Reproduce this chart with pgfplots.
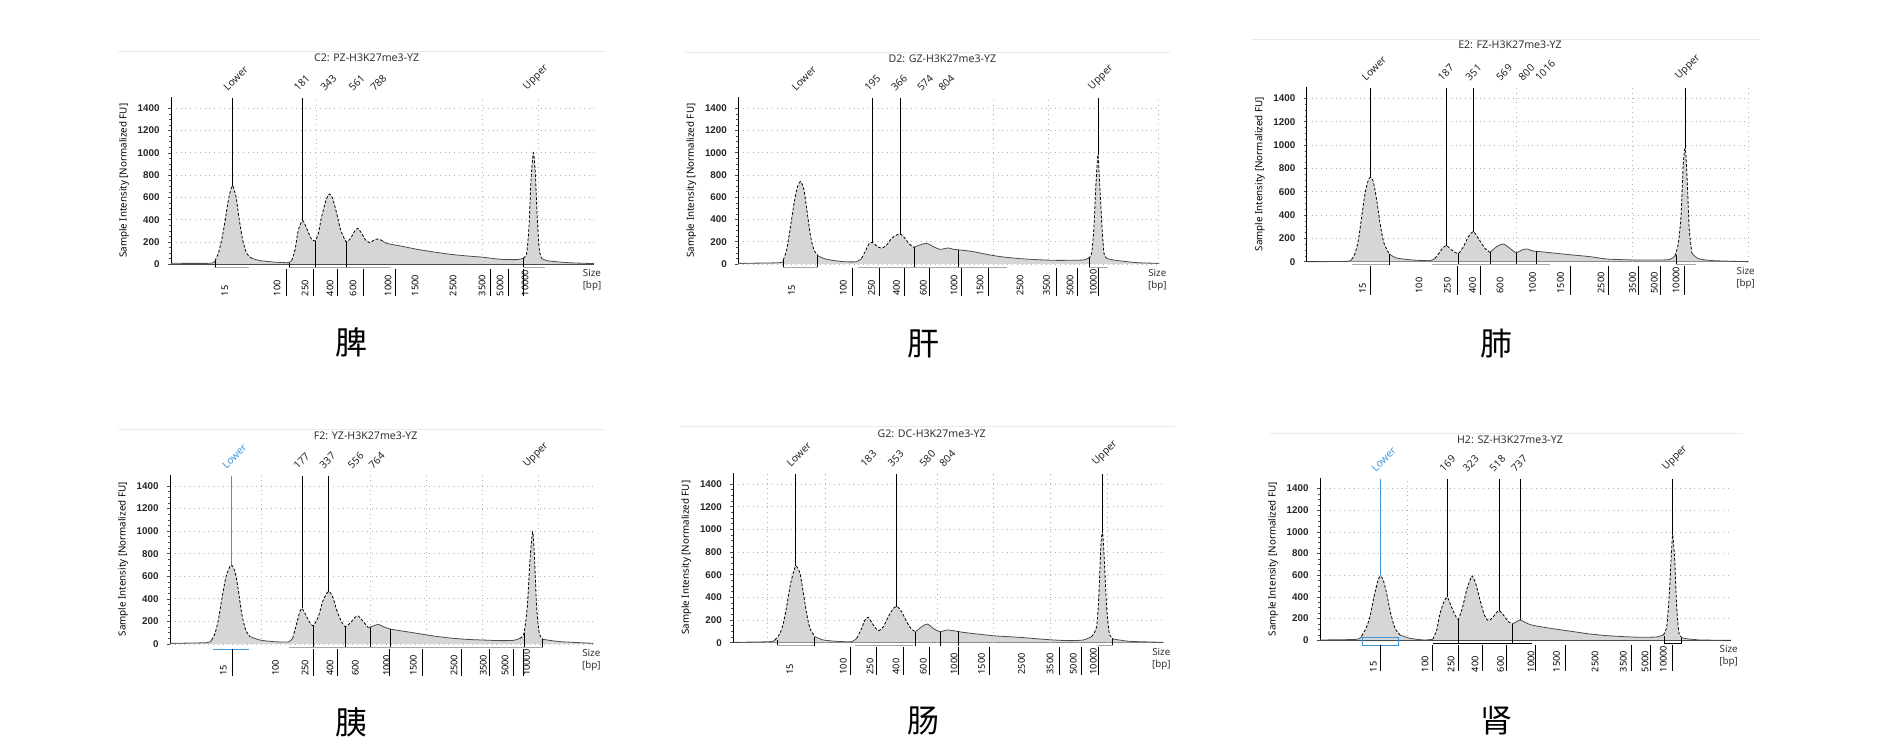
\documentclass[border=0pt]{standalone}
\usepackage{fontspec}
\setmainfont{Noto Sans}
\newfontfamily\cjk{Noto Sans CJK SC}
\newfontfamily\arialf{Liberation Sans}
\usepackage{pgfplots}
\usepackage{pgfplotstable}
\pgfplotsset{compat=1.18}
\definecolor{fillg}{RGB}{214,214,214}
\definecolor{lowblue}{RGB}{60,150,220}
\newcommand{\sm}{\fontsize{4.6pt}{5pt}\selectfont}
\newcommand{\smy}{\arialf\bfseries\fontsize{4.9pt}{5pt}\selectfont}
\newcommand{\sml}{\fontsize{4.9pt}{6pt}\selectfont}
\newcommand{\lbl}{\fontsize{5.1pt}{6pt}\selectfont}
\newcommand{\tit}{\fontsize{5.3pt}{6.4pt}\selectfont}
\newcommand{\organ}{\cjk\fontsize{16pt}{18pt}\selectfont}

\pgfplotsset{
 ep/.style={
  scale only axis, clip=false, anchor=south west,
  ymin=0, ymax=1500,
  axis x line=bottom, axis y line=left,
  axis line style={-, black, line width=0.5pt},
  ytick={0,200,...,1400},
  minor y tick num=3,
  ymajorgrids, grid style={gray!60, dotted, line width=0.4pt},
  tick align=outside, ytick pos=left,
  major tick length=1.6pt, minor tick length=1pt,
  every tick/.style={black!70, line width=0.3pt},
  xtick style={draw=none},
  xticklabels={15,100,250,400,600,1000,1500,2500,3500,5000,10000},
  x tick label style={rotate=90, anchor=west, font=\sm, inner sep=0.5pt},
  xticklabel shift=15pt,
  y tick label style={font=\smy, xshift=-0.6pt, text=black!85},
  /pgf/number format/assume math mode=true,
  /pgf/number format/1000 sep={},
  ylabel={Sample Intensity [Normalized FU]},
  ylabel style={font=\sml},
  ylabel shift=-2.5pt,
 },
 ln/.style={black!70, line width=0.4pt, smooth, tension=0.4, mark=none},
 dl/.style={black, line width=0.4pt, dash pattern=on 1.4pt off 0.9pt, smooth, tension=0.4, mark=none},
}

\newcommand{\trace}[7]{%
 \addplot[fill=fillg, draw=none, smooth, tension=0.4, mark=none] table {#1} \closedcycle;
 \addplot[ln, restrict x to domain=0:#2] table {#1};
 \addplot[dl, restrict x to domain=#2:#3] table {#1};
 \addplot[ln, restrict x to domain=#3:#4] table {#1};
 \addplot[dl, restrict x to domain=#4:#5] table {#1};
 \addplot[ln, restrict x to domain=#5:#6] table {#1};
 \addplot[dl, restrict x to domain=#6:#7] table {#1};
 \addplot[ln, restrict x to domain=#7:3000] table {#1};
}
\newcommand{\pkline}[3][black]{\draw[#1, line width=0.45pt] (axis cs:#2,#3) -- (axis cs:#2,1490);}
\newcommand{\pklab}[3][black!85]{\node[xshift=-2.2pt, yshift=3pt, rotate=45, anchor=south west, inner sep=0pt, font=\lbl, text=#1] at (axis cs:#2,1490) {#3};}
\newcommand{\tl}[1]{\draw[black, line width=0.5pt] (axis cs:#1,-40) -- (axis cs:#1,-285);}
\newcommand{\gv}[1]{\draw[gray!60, dotted, line width=0.4pt] (axis cs:#1,0) -- (axis cs:#1,1490);}
\newcommand{\sg}[2]{\draw[black, line width=0.45pt] (axis cs:#1,#2) -- (axis cs:#1,-28);}
\newcommand{\rg}[3][gray!70]{\draw[#1, line width=0.5pt] (axis cs:#2,-28) -- (axis cs:#3,-28);}
\newcommand{\sz}[1]{\node[anchor=north, align=center, font=\sml, inner sep=0pt, text=black!80] at (axis cs:#1,-45) {Size\\{[bp]}};}

% ---------- data: x = position along the size axis, y = intensity [FU]
\pgfplotstableread{
x y
213 9
330 9
345 30
355 99
365 218
375 383
385 577
397 706
408 607
418 398
428 218
440 99
455 54
480 33
530 18
565 15
575 33
585 129
595 308
608 392
620 323
633 233
645 209
655 278
665 428
678 577
688 631
698 592
710 458
722 308
735 218
740 200
752 233
763 293
773 323
785 278
797 218
810 194
822 218
835 227
848 209
860 188
900 165
950 135
1000 111
1050 90
1100 75
1150 63
1200 45
1250 42
1270 54
1280 99
1287 338
1293 757
1300 1002
1306 817
1312 398
1318 129
1325 54
1340 33
1400 15
1482 6
}\tA

\pgfplotstableread{
x y
205 6
330 12
340 36
350 126
360 306
372 540
382 690
392 741
402 666
412 456
422 246
432 126
445 72
470 42
520 21
560 21
575 51
588 126
598 186
608 192
620 162
635 141
650 171
665 231
680 261
692 270
705 231
718 180
732 150
750 171
770 186
790 156
810 132
835 144
850 132
870 126
910 111
960 81
1000 63
1050 48
1100 39
1150 33
1200 33
1240 36
1255 51
1265 96
1272 336
1278 726
1284 981
1290 666
1296 336
1302 96
1310 51
1330 36
1400 12
1468 6
}\tB

\pgfplotstableread{
x y
200 0
320 3
335 20
345 71
355 186
365 386
375 586
385 700
392 723
400 686
410 529
420 329
432 157
448 66
470 31
520 14
570 9
585 29
598 77
610 123
620 137
635 100
655 71
670 129
685 214
700 257
715 200
735 114
750 80
770 129
790 151
810 114
828 77
845 100
860 109
880 91
900 86
950 71
1000 57
1050 43
1100 23
1150 17
1200 14
1260 14
1290 20
1305 49
1315 157
1323 386
1330 843
1336 971
1342 671
1348 271
1356 71
1375 26
1420 9
1525 0
}\tC

\pgfplotstableread{
x y
210 6
320 12
335 35
345 94
355 213
365 390
378 596
393 700
405 641
415 479
425 272
437 124
450 65
480 35
520 21
565 18
578 50
590 183
598 272
605 316
615 272
628 197
640 162
655 242
668 375
680 449
688 464
698 419
710 301
722 213
735 154
750 183
765 236
775 248
790 198
805 145
820 160
835 174
850 153
870 133
900 118
950 95
1000 71
1050 53
1100 41
1150 35
1200 30
1240 32
1260 50
1272 94
1282 331
1290 744
1298 993
1303 802
1310 331
1318 94
1330 41
1380 21
1480 6
}\tD

\pgfplotstableread{
x y
190 3
300 9
315 24
330 82
340 171
350 318
362 524
377 676
390 612
400 441
410 259
420 126
435 53
460 24
500 12
545 9
560 38
575 126
585 200
595 224
610 156
625 106
640 141
655 229
670 303
682 318
695 274
710 185
725 118
737 97
755 141
772 165
790 126
810 97
830 112
850 106
880 91
930 74
980 59
1050 47
1100 35
1150 24
1200 18
1240 24
1265 53
1280 141
1287 435
1293 876
1298 965
1303 729
1310 318
1318 82
1330 32
1380 12
1480 3
}\tE

\pgfplotstableread{
x y
240 3
350 9
365 40
378 111
390 218
402 403
414 554
421 594
430 554
440 431
452 249
465 111
480 49
510 18
550 3
578 9
590 95
600 249
612 357
622 397
632 326
645 234
655 194
668 311
680 465
692 572
697 594
707 526
720 372
733 234
745 181
760 218
772 265
778 274
790 234
805 172
818 151
830 172
840 188
855 166
870 145
900 126
950 102
1000 80
1050 58
1100 43
1150 34
1200 28
1250 31
1270 49
1280 126
1288 434
1294 803
1298 972
1304 741
1310 311
1317 65
1330 18
1380 3
1472 0
}\tF

\begin{document}
\begin{tikzpicture}
\useasboundingbox (0,0) rectangle (940pt,374pt);

% ---------------- Panel 1: C2 PZ
\begin{axis}[ep, at={(85.5pt,241.85pt)}, width=211.5pt, height=83.55pt,
  xmin=213, xmax=1482, xtick={375,531,615,690,759,864,945,1059,1146,1200,1275}]
 \gv{650}\gv{1148}\gv{1315}
 \trace{\tA}{345}{455}{575}{848}{1270}{1325}
 \pkline{397}{706}\pkline{608}{392}
 \pklab{397}{Lower}\pklab{608}{181}\pklab{688}{343}\pklab{773}{561}\pklab{838}{788}\pklab{1300}{Upper}
 \sg{345}{30}\sg{568}{15}\sg{645}{209}\sg{740}{200}\sg{1270}{54}
 \rg{343}{447}\rg{568}{870}\rg{1270}{1335}
 \tl{558}\tl{640}\tl{711}\tl{789}\tl{885}\tl{1170}\tl{1224}\tl{1270}
 \sz{1476}
\end{axis}

% ---------------- Panel 2: D2 GZ
\begin{axis}[ep, at={(369.15pt,242pt)}, width=210.5pt, height=83.4pt,
  xmin=205, xmax=1468, xtick={365,520,605,680,760,852,930,1050,1130,1200,1270}]
 \gv{970}\gv{1135}\gv{1465}
 \trace{\tB}{340}{445}{575}{732}{1255}{1310}
 \pkline{608}{192}\pkline{690}{265}\pkline{1284}{981}
 \pklab{392}{Lower}\pklab{610}{195}\pklab{690}{366}\pklab{768}{574}\pklab{832}{804}\pklab{1285}{Upper}
 \sg{340}{36}\sg{443}{72}\sg{732}{150}\sg{865}{126}\sg{1257}{51}
 \rg{338}{443}\rg{565}{1010}\rg{1257}{1315}
 \tl{548}\tl{628}\tl{705}\tl{778}\tl{875}\tl{955}\tl{1160}\tl{1222}\tl{1285}
 \sz{1462}
\end{axis}

% ---------------- Panel 3: E2 FZ
\begin{axis}[ep, at={(653.35pt,243.15pt)}, width=220.8pt, height=87.5pt,
  xmin=200, xmax=1525, xtick={368,537,622,698,780,878,962,1083,1178,1243,1308}]
 \gv{828}\gv{1178}\gv{1525}
 \trace{\tC}{335}{448}{585}{750}{1305}{1356}
 \pkline{392}{723}\pkline{620}{137}\pkline{700}{257}\pkline{1336}{971}
 \pklab{392}{Lower}\pklab{620}{187}\pklab{703}{351}\pklab{795}{569}\pklab{862}{800}\pklab{912}{1016}\pklab{1336}{Upper}
 \sg{448}{66}\sg{655}{71}\sg{752}{80}\sg{830}{77}\sg{890}{88}\sg{1308}{60}
 \rg{337}{448}\rg{575}{930}\rg{1308}{1367}
 \tl{390}\tl{652}\tl{720}\tl{990}\tl{1105}\tl{1195}\tl{1263}\tl{1335}
 \sz{1517}
\end{axis}

% ---------------- Panel 4: F2 YZ
\begin{axis}[ep, at={(85pt,52pt)}, width=211.65pt, height=84.65pt,
  xmin=210, xmax=1480, xtick={370,527,615,690,766,860,940,1062,1150,1215,1280}]
 \gv{483}\gv{812}\gv{978}\gv{1148}\gv{1315}
 \trace{\tD}{335}{450}{578}{805}{1260}{1330}
 \pkline[lowblue]{393}{700}\pkline{607}{316}\pkline{685}{460}
 \pklab[lowblue]{393}{Lower}\pklab{607}{177}\pklab{685}{337}\pklab{770}{556}\pklab{833}{764}\pklab{1300}{Upper}
 \sg{640}{162}\sg{737}{154}\sg{812}{150}\sg{870}{133}\sg{1272}{94}\sg{1328}{41}
 \draw[lowblue, line width=0.5pt] (axis cs:340,-45) -- (axis cs:447,-45);
 \rg{568}{1330}
 \tl{397}\tl{640}\tl{712}\tl{870}\tl{968}\tl{1085}\tl{1170}\tl{1240}\tl{1270}
 \sz{1474}
\end{axis}

% ---------------- Panel 5: G2 DC
\begin{axis}[ep, at={(366.65pt,52.65pt)}, width=215pt, height=85pt,
  xmin=190, xmax=1480, xtick={360,520,600,678,760,852,935,1055,1140,1210,1270}]
 \gv{293}\gv{465}\gv{803}\gv{970}\gv{1140}\gv{1312}
 \trace{\tE}{315}{435}{560}{737}{1265}{1330}
 \pkline{377}{676}\pkline{680}{318}\pkline{1297}{965}
 \pklab{377}{Lower}\pklab{598}{183}\pklab{680}{353}\pklab{775}{580}\pklab{835}{804}\pklab{1297}{Upper}
 \sg{322}{24}\sg{432}{53}\sg{737}{97}\sg{810}{97}\sg{865}{100}\sg{1328}{35}
 \rg{322}{432}\rg{555}{730}\rg{1283}{1328}
 \tl{542}\tl{620}\tl{700}\tl{780}\tl{865}\tl{960}\tl{1168}\tl{1235}\tl{1285}
 \sz{1474}
\end{axis}

% ---------------- Panel 6: H2 SZ
\begin{axis}[ep, at={(660pt,53.85pt)}, width=205.35pt, height=81.25pt,
  xmin=240, xmax=1472, xtick={400,555,633,705,782,873,950,1065,1150,1215,1270}]
 \gv{503}
 \trace{\tF}{365}{480}{578}{818}{1270}{1330}
 \pkline[lowblue]{421}{594}\pkline{622}{397}\pkline{778}{274}\pkline{840}{188}\pkline{1298}{972}
 \pklab[lowblue]{421}{Lower}\pklab{625}{169}\pklab{695}{323}\pklab{775}{518}\pklab{840}{737}\pklab{1297}{Upper}
 \sg{655}{194}\sg{818}{151}\sg{1272}{40}\sg{1325}{18}
 \draw[lowblue, line width=0.5pt] (axis cs:367,28) rectangle (axis cs:475,-52);
 \rg[black]{580}{875}\rg[black]{1272}{1325}
 \tl{422}\tl{578}\tl{655}\tl{727}\tl{800}\tl{885}\tl{975}\tl{1175}\tl{1230}\tl{1297}
 \sz{1466}
\end{axis}

% ---------------- titles, separators and organ names
\begin{scope}[x=0.5pt, y=-0.5pt, shift={(0pt,374pt)}]
 \draw[black!8, line width=0.6pt] (118,51.7) -- (605,51.7);
 \draw[black!8, line width=0.6pt] (685,52.7) -- (1170,52.7);
 \draw[black!8, line width=0.6pt] (1252,39.3) -- (1760,39.3);
 \draw[black!8, line width=0.6pt] (118,429.3) -- (605,429.3);
 \draw[black!8, line width=0.6pt] (680,426.7) -- (1175,426.7);
 \draw[black!8, line width=0.6pt] (1270,433.3) -- (1743,433.3);
 \node[font=\tit, text=black!80] at (366.7,57.5) {C2: PZ-H3K27me3-YZ};
 \node[font=\tit, text=black!80] at (942.3,58.3) {D2: GZ-H3K27me3-YZ};
 \node[font=\tit, text=black!80] at (1510,45) {E2: FZ-H3K27me3-YZ};
 \node[font=\tit, text=black!80] at (365.7,436) {F2: YZ-H3K27me3-YZ};
 \node[font=\tit, text=black!80] at (931.7,433.3) {G2: DC-H3K27me3-YZ};
 \node[font=\tit, text=black!80] at (1510,440) {H2: SZ-H3K27me3-YZ};
 \node[font=\organ] at (351,342) {脾};
 \node[font=\organ] at (923,344) {肝};
 \node[font=\organ] at (1496,344) {肺};
 \node[font=\organ] at (351,722) {胰};
 \node[font=\organ] at (923,721) {肠};
 \node[font=\organ] at (1496,721) {肾};
\end{scope}
\end{tikzpicture}
\end{document}
